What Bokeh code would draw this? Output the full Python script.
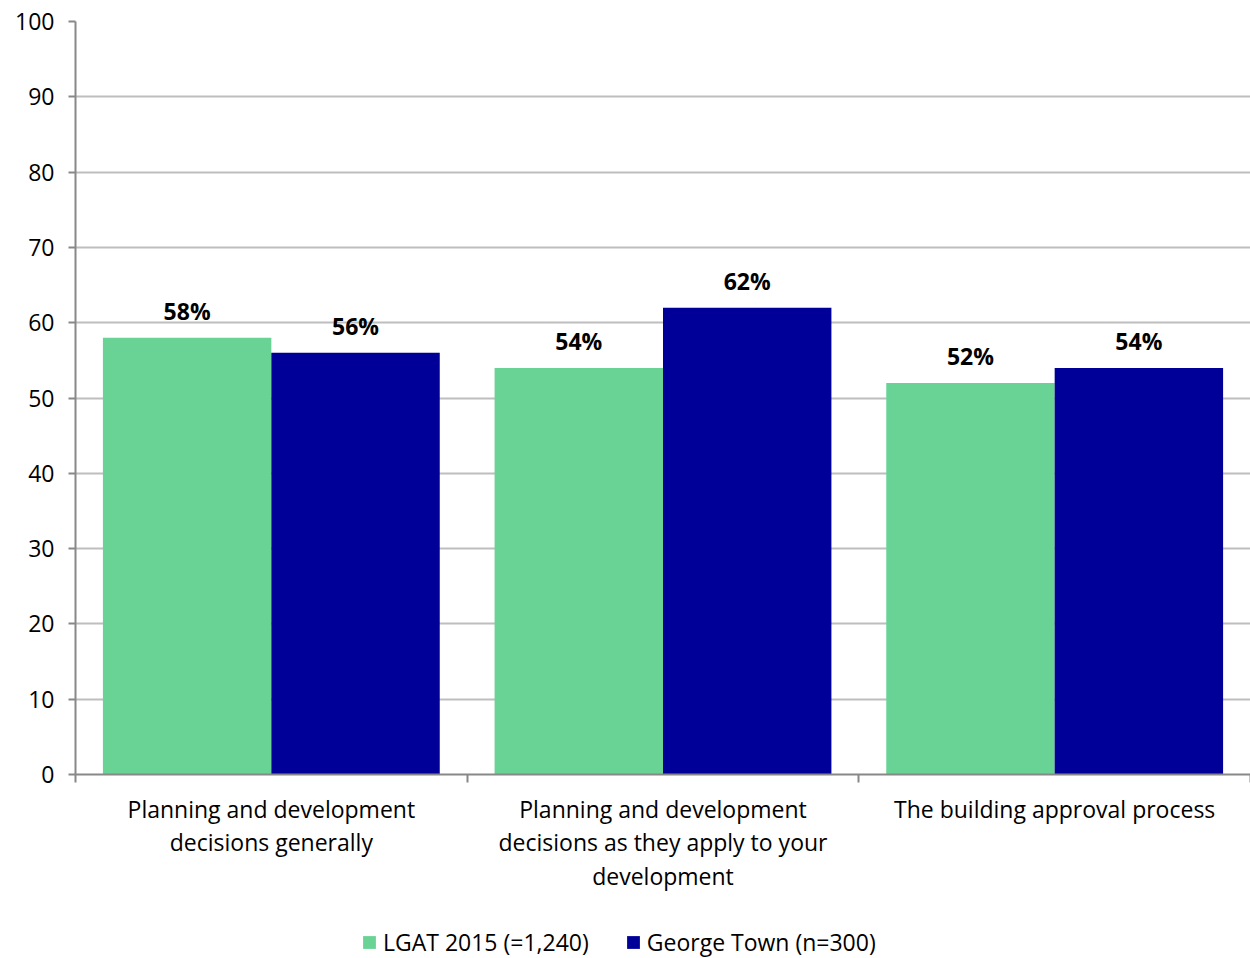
from bokeh.plotting import figure
from bokeh.models import Range1d, FixedTicker, ColumnDataSource, Legend, LegendItem, LabelSet
from bokeh.layouts import column
from bokeh.core.properties import value
from bokeh.embed import file_html
from bokeh.resources import INLINE

categories = ["Planning and development\ndecisions generally",
              "Planning and development\ndecisions as they apply to your\ndevelopment",
              "The building approval process"]
series_names = ["LGAT 2015 (=1,240)", "George Town (n=300)"]
lgat = [58, 54, 52]
george = [56, 62, 54]
colors = ["#69D395", "#000099"]
y_ticks = [0, 10, 20, 30, 40, 50, 60, 70, 80, 90, 100]

FONT = "Open Sans"
FS = "23px"
W = 0.43

p = figure(width=1250, height=898, output_backend="svg", toolbar_location=None,
           x_range=Range1d(0, len(categories)), y_range=Range1d(0, 100))
p.min_border_left = 75
p.min_border_right = 0
p.min_border_top = 21
p.min_border_bottom = 124
p.outline_line_color = None
p.background_fill_color = "white"

centers = [i + 0.5 for i in range(len(categories))]
src1 = ColumnDataSource(dict(x=[c - W / 2 for c in centers], top=lgat,
                             lab=[f"{v}%" for v in lgat]))
src2 = ColumnDataSource(dict(x=[c + W / 2 for c in centers], top=george,
                             lab=[f"{v}%" for v in george]))
r1 = p.vbar(x="x", top="top", width=W, source=src1, fill_color=colors[0], line_color=None)
r2 = p.vbar(x="x", top="top", width=W, source=src2, fill_color=colors[1], line_color=None)

for s in (src1, src2):
    p.add_layout(LabelSet(x="x", y="top", text="lab", source=s, text_align="center",
                          text_baseline="bottom", y_offset=11, text_font=value(FONT),
                          text_font_style="bold", text_font_size=FS, text_color="black"))

# axes
p.yaxis.ticker = FixedTicker(ticks=y_ticks)
p.yaxis.minor_tick_line_color = None
p.yaxis.major_tick_in = 0
p.yaxis.major_tick_out = 7
p.yaxis.axis_line_color = "#888888"
p.yaxis.axis_line_width = 2
p.yaxis.major_tick_line_color = "#888888"
p.yaxis.major_tick_line_width = 2
p.yaxis.major_label_text_font = FONT
p.yaxis.major_label_text_font_size = FS
p.yaxis.major_label_text_color = "black"
p.yaxis.major_label_standoff = 14

p.xaxis.ticker = FixedTicker(ticks=centers, minor_ticks=list(range(len(categories) + 1)))
p.xaxis.major_label_overrides = {c: lab for c, lab in zip(centers, categories)}
p.xaxis.major_tick_line_color = None
p.xaxis.minor_tick_in = 0
p.xaxis.minor_tick_out = 8
p.xaxis.minor_tick_line_color = "#888888"
p.xaxis.minor_tick_line_width = 2
p.xaxis.axis_line_color = "#888888"
p.xaxis.axis_line_width = 2
p.xaxis.major_label_text_font = FONT
p.xaxis.major_label_text_font_size = FS
p.xaxis.major_label_text_color = "black"
p.xaxis.major_label_standoff = 10
p.xaxis.major_label_text_line_height = 1.05

p.xgrid.grid_line_color = None
p.ygrid.ticker = FixedTicker(ticks=y_ticks)
p.ygrid.grid_line_color = "#BEBEBE"
p.ygrid.grid_line_width = 2

# legend strip below the chart (its renderers sit outside the visible range)
lf = figure(width=1250, height=60, output_backend="svg", toolbar_location=None,
            x_range=Range1d(0, 1), y_range=Range1d(0, 1))
lf.min_border = 0
lf.axis.visible = False
lf.grid.visible = False
lf.outline_line_color = None
l1 = lf.vbar(x=[5], top=lgat[:1], width=0.1, fill_color=colors[0], line_color=None)
l2 = lf.vbar(x=[5], top=george[:1], width=0.1, fill_color=colors[1], line_color=None)
legend = Legend(items=[LegendItem(label=series_names[0], renderers=[l1]),
                       LegendItem(label=series_names[1], renderers=[l2])],
                orientation="horizontal", location=(286, 0),
                label_text_font=FONT, label_text_font_size=FS, label_text_color="black",
                glyph_width=16, glyph_height=16, spacing=36, label_standoff=6,
                border_line_color=None, background_fill_alpha=0, padding=2, margin=0)
lf.add_layout(legend, "center")

open("out.html", "w").write(file_html(column(p, lf, spacing=0), INLINE))
